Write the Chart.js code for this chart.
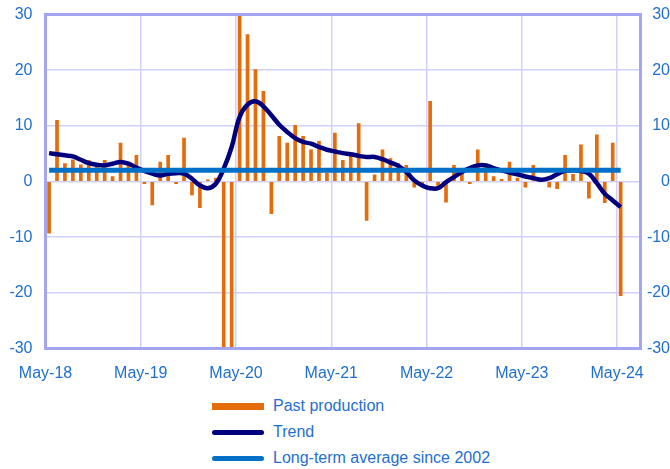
<!DOCTYPE html>
<html>
<head>
<meta charset="utf-8">
<script src="https://cdn.jsdelivr.net/npm/chart.js@4.4.1/dist/chart.umd.min.js"></script>
<style>
  html, body { margin: 0; padding: 0; background: #fff; }
  #wrap { position: relative; width: 670px; height: 469px; }
  #chartBox { position: absolute; left: 0; top: 0; width: 670px; height: 390px; }
  #legend { position: absolute; left: 212px; top: 393px; font-family: "Liberation Sans", Arial, sans-serif; font-size: 16px; color: #1f6fd0; }
  .row { height: 26px; display: flex; align-items: center; }
  .sw { width: 52px; margin-right: 9px; }
</style>
</head>
<body>
<div id="wrap">
  <div id="chartBox"><canvas id="chart"></canvas></div>
  <div id="legend"></div>
</div>
<script>
// tick labels on the x axis (one per year, May)
const yearTicks = ['May-18', 'May-19', 'May-20', 'May-21', 'May-22', 'May-23', 'May-24'];

// monthly change, May-18 .. May-24
const production = [
  -9.3, 11.0, 3.2, 3.9, 3.0, 3.8, 2.9, 3.8, 0.9, 6.9, 3.0, 4.7,
  -0.4, -4.2, 3.5, 4.7, -0.4, 7.8, -2.4, -4.7, 0.3, 0.6, -31, -34,
  30.5, 26.4, 20.1, 16.2, -5.8, 8.1, 6.9, 10.1, 8.1, 5.7, 7.2, 1.5,
  8.7, 3.8, 4.5, 10.4, -7.0, 1.2, 5.7, 4.1, 3.2, 2.9, -1.0, -0.5,
  14.4, -0.7, -3.7, 2.9, 2.0, -0.4, 5.7, 3.2, 0.9, 0.4, 3.5, 0.6,
  -1.0, 2.9, 0.5, -1.0, -1.3, 4.7, 1.3, 6.6, -3.0, 8.4, -3.8, 6.9,
  -20.5
];

const trend = [
  5.1, 4.9, 4.7, 4.5, 3.9, 3.3, 3.0, 2.9, 3.2, 3.5, 3.2, 2.5,
  1.9, 1.4, 1.1, 1.4, 1.5, 1.4, 0.5, -0.7, -1.2, -0.4, 2.3, 6.2,
  11.6, 13.8, 14.4, 13.5, 11.9, 10.2, 8.9, 7.8, 7.1, 6.8, 6.2, 5.7,
  5.4, 5.1, 4.9, 4.6, 4.4, 4.4, 4.0, 3.4, 2.8, 1.7, 0.2, -0.7,
  -1.2, -1.2, -0.1, 0.8, 1.7, 2.4, 2.9, 2.9, 2.4, 2.0, 1.6, 1.3,
  0.9, 0.6, 0.3, 0.6, 1.3, 1.9, 2.0, 1.9, 1.4, -0.3, -2.2, -3.4,
  -4.6
];

const longTermAverage = 2.0;
const yTicks = [-30, -20, -10, 0, 10, 20, 30];

const BLUE_TEXT = '#1f6fd0';
const GRID = '#d0d0fb';
const FRAME = '#a4a4f0';
const tickFont = { family: '"Liberation Sans", Arial, sans-serif', size: 16 };

const xy = arr => arr.map((v, i) => ({ x: i, y: v }));
const last = production.length - 1;

// frame around the plot area
const framePlugin = {
  id: 'frame',
  afterDatasetsDraw(chart) {
    const a = chart.chartArea, c = chart.ctx;
    c.save();
    c.strokeStyle = FRAME;
    c.lineWidth = 3;
    c.strokeRect(a.left, a.top, a.right - a.left, a.bottom - a.top);
    c.restore();
  }
};

// fixed width for a y axis, no extra top/bottom room for its labels
const fitY = w => s => {
  s.width = w;
  s.paddingTop = 0;
  s.paddingBottom = 0;
};

const chart = new Chart(document.getElementById('chart'), {
  type: 'bar',
  data: {
    datasets: [{
      type: 'line',
      label: 'Long-term average since 2002',
      data: [{ x: 0, y: longTermAverage }, { x: last, y: longTermAverage }],
      borderColor: '#0070c8',
      backgroundColor: '#0070c8',
      borderWidth: 5,
      pointRadius: 0,
      order: 0
    }, {
      type: 'line',
      label: 'Trend',
      data: xy(trend),
      borderColor: '#00007e',
      backgroundColor: '#00007e',
      borderWidth: 4.5,
      pointRadius: 0,
      tension: 0.4,
      borderJoinStyle: 'round',
      order: 1
    }, {
      type: 'bar',
      label: 'Past production',
      data: xy(production),
      backgroundColor: '#e46c0a',
      barThickness: 3,
      order: 2
    }]
  },
  options: {
    responsive: true,
    maintainAspectRatio: false,
    animation: false,
    layout: { padding: { top: 14.5, left: 0, right: 0, bottom: 0 } },
    plugins: {
      legend: { display: false },
      tooltip: { enabled: false }
    },
    scales: {
      x: {
        type: 'linear',
        offset: false,
        min: -0.45,
        max: 74.5,
        afterBuildTicks: axis => {
          axis.ticks = yearTicks.map((_, k) => ({ value: k * 12 - 0.45 }));
        },
        afterFit: s => { s.height = 41.5; },
        grid: { color: GRID, lineWidth: 1.5, drawTicks: false, offset: false },
        border: { display: false },
        ticks: {
          padding: 15,
          color: BLUE_TEXT,
          font: tickFont,
          maxRotation: 0,
          autoSkip: false,
          callback: (v, i) => yearTicks[i]
        }
      },
      y: {
        position: 'left',
        min: -30,
        max: 30,
        afterBuildTicks: axis => { axis.ticks = yTicks.map(v => ({ value: v })); },
        afterFit: fitY(45.5),
        grid: { color: GRID, lineWidth: 1.5, drawTicks: false },
        border: { display: false },
        ticks: { padding: 13, color: BLUE_TEXT, font: tickFont }
      },
      y2: {
        position: 'right',
        min: -30,
        max: 30,
        afterBuildTicks: axis => { axis.ticks = yTicks.map(v => ({ value: v })); },
        afterFit: fitY(29.5),
        grid: { display: false, drawTicks: false },
        border: { display: false },
        ticks: { padding: 0, crossAlign: 'far', color: BLUE_TEXT, font: tickFont }
      }
    }
  },
  plugins: [framePlugin]
});

// legend below the chart, in the bar / trend / average order
const legend = document.getElementById('legend');
[2, 1, 0].forEach(i => {
  const ds = chart.data.datasets[i];
  const row = document.createElement('div');
  row.className = 'row';
  const sw = document.createElement('div');
  sw.className = 'sw';
  sw.style.background = ds.type === 'bar' ? ds.backgroundColor : ds.borderColor;
  sw.style.height = ds.type === 'bar' ? '7px' : '5px';
  if (ds.type !== 'bar') sw.style.borderRadius = '3px';
  const tx = document.createElement('span');
  tx.textContent = ds.label;
  row.appendChild(sw);
  row.appendChild(tx);
  legend.appendChild(row);
});
</script>
</body>
</html>
